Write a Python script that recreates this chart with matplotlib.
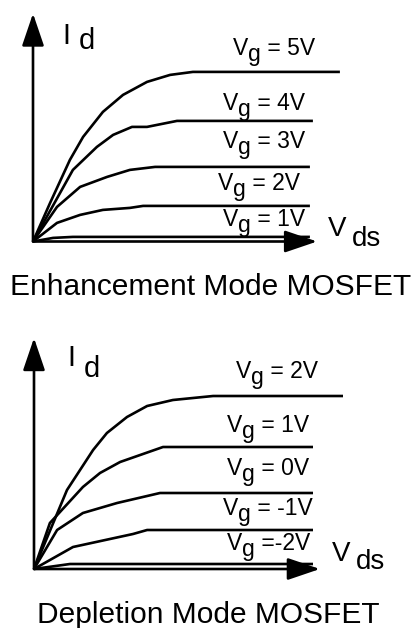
import matplotlib
matplotlib.use("Agg")
import matplotlib.pyplot as plt

plt.rcParams["font.family"] = ["Liberation Sans", "DejaVu Sans"]

# Output characteristics: drain current I_d versus drain-source voltage V_ds
# (arbitrary units), one curve per gate voltage.

# Enhancement mode MOSFET
enh_labels = ["5V", "4V", "3V", "2V", "1V"]
enh_vds = [
    [0, 0.57, 1.23, 1.67, 2.33, 3.0, 3.8, 4.57, 5.33, 10.23],
    [0, 1.33, 2.13, 2.67, 3.3, 3.8, 4.8, 9.33],
    [0, 0.8, 1.57, 2.47, 3.23, 4.07, 9.23],
    [0, 0.8, 1.57, 2.33, 3.23, 3.67, 9.23],
    [0, 0.67, 1.33, 9.23],
]
enh_id = [
    [0, 1.93, 4.08, 5.23, 6.48, 7.33, 7.98, 8.33, 8.48, 8.48],
    [0, 3.58, 4.73, 5.33, 5.73, 5.73, 6.03, 6.03],
    [0, 1.73, 2.73, 3.23, 3.58, 3.73, 3.73],
    [0, 0.93, 1.33, 1.58, 1.68, 1.78, 1.78],
    [0, 0.18, 0.23, 0.23],
]

# Depletion mode MOSFET
dep_labels = ["2V", "1V", "0V", "-1V", "-2V"]
dep_vds = [
    [0, 1.1, 1.97, 2.43, 3.1, 3.77, 4.63, 5.97, 10.3],
    [0, 0.53, 1.63, 2.2, 2.87, 4.3, 9.3],
    [0, 0.77, 1.63, 2.77, 4.2, 9.3],
    [0, 1.3, 3.3, 3.77, 9.3],
    [0, 1.2, 9.3],
]
dep_id = [
    [0, 3.95, 5.95, 6.8, 7.6, 8.15, 8.45, 8.65, 8.65],
    [0, 2.3, 4.1, 4.8, 5.35, 6.1, 6.1],
    [0, 1.95, 2.8, 3.3, 3.8, 3.8],
    [0, 1.1, 1.75, 1.95, 1.95],
    [0, 0.25, 0.25],
]

LW = 1.9


def compound_label(ax, x, y, main, sub, rest, size, drop, gap=0.0):
    """Draw main text, a lowered full-size suffix, then optional trailing text."""
    t = ax.text(x, y, main, fontsize=size, ha="left", va="bottom",
                color="black", clip_on=False)
    s = ax.annotate(sub, xy=(1, 0), xycoords=t, xytext=(gap, -drop),
                    textcoords="offset points", fontsize=size,
                    ha="left", va="bottom", color="black")
    if rest:
        ax.annotate(rest, xy=(1, 0), xycoords=s, xytext=(0, drop),
                    textcoords="offset points", fontsize=size,
                    ha="left", va="bottom", color="black")


def panel(ax, vds, ids, labels, label_pos, id_pos, id_drop, vds_pos, vds_drop,
          y_tip, x_tip, title, title_pos):
    ax.set_xlim(0, 10)
    ax.set_ylim(0, 10)
    ax.axis("off")

    arrow = dict(arrowstyle="-|>,head_length=2.0,head_width=0.68",
                 lw=LW, color="black", shrinkA=0, shrinkB=0)
    ax.annotate("", xy=(0, y_tip), xytext=(0, 0), arrowprops=arrow,
                annotation_clip=False)
    ax.annotate("", xy=(x_tip, 0), xytext=(0, 0), arrowprops=arrow,
                annotation_clip=False)

    for xs, ys in zip(vds, ids):
        ax.plot(xs, ys, color="black", lw=LW, solid_joinstyle="round",
                solid_capstyle="butt", clip_on=False)

    for lab, (lx, ly) in zip(labels, label_pos):
        rest = " =" + lab if lab == "-2V" else " = " + lab
        compound_label(ax, lx, ly, "V", "g", rest, 16.5, 4.5)

    compound_label(ax, id_pos[0], id_pos[1], "I", "d", "", 21, id_drop, gap=6)
    compound_label(ax, vds_pos[0], vds_pos[1], "V", "ds", "", 20, vds_drop, gap=4)

    ax.text(title_pos[0], title_pos[1], title, fontsize=21.5, ha="center",
            va="baseline", color="black", clip_on=False)


fig = plt.figure(figsize=(4.12, 6.28), dpi=100)
fig.patch.set_facecolor("white")

W, H = 412.0, 628.0
ax1 = fig.add_axes([33 / W, (H - 241.5) / H, 300 / W, 200 / H])
ax2 = fig.add_axes([34 / W, (H - 569) / H, 300 / W, 200 / H])

panel(ax1, enh_vds, enh_id, enh_labels,
      [(6.67, 9.08), (6.33, 6.33), (6.33, 4.43), (6.17, 2.33), (6.33, 0.53)],
      (0.97, 9.58), 3.6, (9.83, -0.03), 7.2, 11.4, 9.47,
      "Enhancement Mode MOSFET", (5.93, -2.68))

panel(ax2, dep_vds, dep_id, dep_labels,
      [(6.73, 9.3), (6.43, 6.6), (6.43, 4.45), (6.3, 2.45), (6.43, 0.7)],
      (1.1, 9.85), 7.9, (9.93, 0.1), 5.8, 11.55, 9.53,
      "Depletion Mode MOSFET", (5.8, -2.68))

fig.savefig("out.png", dpi=100, facecolor="white")
